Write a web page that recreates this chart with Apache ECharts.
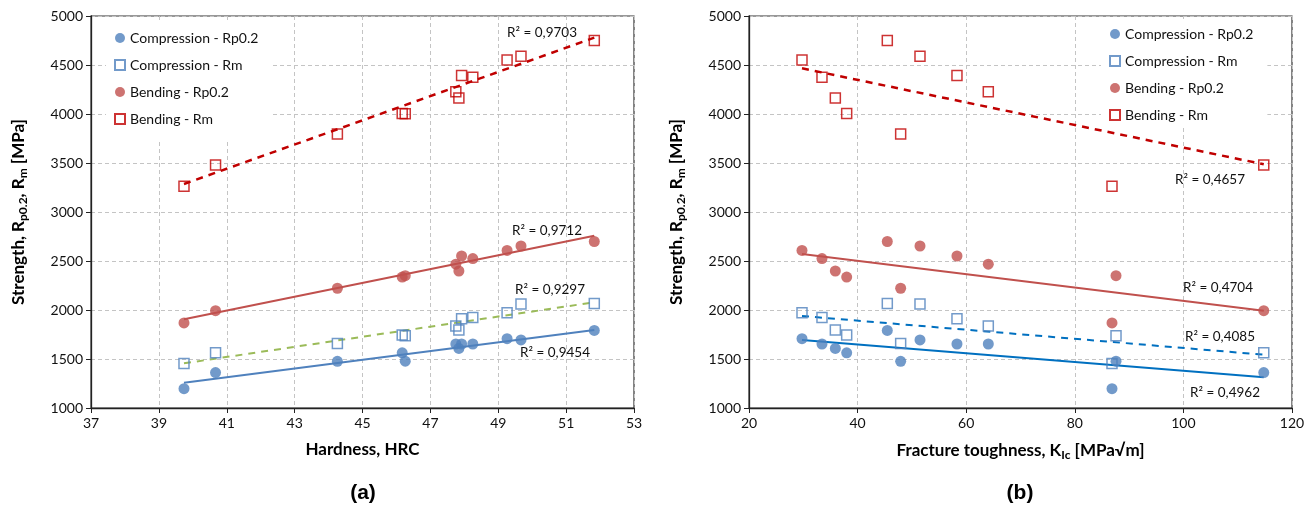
<!DOCTYPE html>
<html>
<head>
<meta charset="utf-8">
<script src="https://cdn.jsdelivr.net/npm/echarts@6/dist/echarts.min.js"></script>
<style>
  html, body { margin: 0; padding: 0; background: #fff; }
  #chart { width: 1313px; height: 512px; }
</style>
</head>
<body>
<div id="chart"></div>
<script>
// samples: hardness (chart a) and fracture toughness (chart b) of the same specimens
var hrc = [39.74, 40.67, 44.26, 46.17, 46.26, 47.75, 47.84, 47.92, 48.25, 49.26, 49.67, 51.83];
var kic = [86.85, 114.8, 47.93, 37.99, 87.59, 64.07, 35.9, 58.3, 33.44, 29.76, 51.49, 45.47];

var compRp = [1197, 1362, 1476, 1563, 1478, 1653, 1608, 1653, 1653, 1707, 1695, 1791];
var compRm = [1454, 1564, 1658, 1745, 1736, 1838, 1796, 1911, 1923, 1971, 2062, 2066];
var bendRp = [1868, 1993, 2222, 2336, 2350, 2467, 2398, 2551, 2525, 2608, 2653, 2699];
var bendRm = [3263, 3479, 3796, 4005, 4003, 4227, 4163, 4394, 4376, 4552, 4590, 4750];

// trend line end points
var trendHrc = [39.74, 51.83];
var trendA = {
  compRp: [1258, 1796],
  compRm: [1456, 2079],
  bendRp: [1905, 2758],
  bendRm: [3286, 4779]
};
var trendKic = [29.76, 114.8];
var trendB = {
  compRp: [1694, 1313],
  compRm: [1939, 1544],
  bendRp: [2571, 1993],
  bendRm: [4466, 3487]
};

var r2a = ['0,9703', '0,9712', '0,9297', '0,9454'];
var r2b = ['0,4657', '0,4704', '0,4085', '0,4962'];

var names = ['Compression - Rp0.2', 'Compression - Rm', 'Bending - Rp0.2', 'Bending - Rm'];
var xTicksA = [37, 53, 2];
var xTicksB = [20, 120, 20];
var yTicks = [1000, 5000, 500];

var FONT = 'Lato, "Open Sans", sans-serif';

function pairs(xs, ys) {
  return xs.map(function (x, i) { return [x, ys[i]]; });
}

function scatter(name, idx, xs, ys, kind) {
  var s = {
    name: name, type: 'scatter', xAxisIndex: idx, yAxisIndex: idx,
    data: pairs(xs, ys), z: 3
  };
  if (kind === 'blueDot') {
    s.symbol = 'circle'; s.symbolSize = 11;
    s.itemStyle = { color: '#4F81BD' };
  } else if (kind === 'redDot') {
    s.symbol = 'circle'; s.symbolSize = 11;
    s.itemStyle = { color: '#C0504D' };
  } else if (kind === 'blueSq') {
    s.symbol = 'rect'; s.symbolSize = 10;
    s.itemStyle = { color: 'rgba(255,255,255,0)', borderColor: '#4F81BD', borderWidth: 1.5 };
  } else {
    s.symbol = 'rect'; s.symbolSize = 10;
    s.itemStyle = { color: 'rgba(255,255,255,0)', borderColor: '#C00000', borderWidth: 1.5 };
  }
  return s;
}

function trend(idx, xs, ys, color, dashed, width) {
  return {
    type: 'line', xAxisIndex: idx, yAxisIndex: idx,
    data: pairs(xs, ys), symbol: 'none', silent: true, z: 2,
    lineStyle: { color: color, width: width || 2, type: dashed ? [7, 6] : 'solid' }
  };
}

function xAxis(idx, t, nameRich) {
  return {
    type: 'value', gridIndex: idx, min: t[0], max: t[1], interval: t[2],
    name: nameRich, nameLocation: 'middle', nameGap: 33,
    nameTextStyle: {
      fontFamily: FONT, fontSize: 17, fontWeight: 'bold', color: '#000',
      rich: {
        b: { fontFamily: FONT, fontSize: 17, fontWeight: 'bold', color: '#000' },
        sub: { fontFamily: FONT, fontSize: 12, fontWeight: 'bold', color: '#000', padding: [8, 0, 0, 0] }
      }
    },
    axisLine: { onZero: false, lineStyle: { color: '#222', width: 1.3 } },
    axisTick: { show: true, length: 5, lineStyle: { color: '#222' } },
    axisLabel: { fontFamily: FONT, fontSize: 14, color: '#111', margin: 8 },
    splitLine: { show: true, lineStyle: { color: '#C4C4C4', type: [4, 3] } }
  };
}

function yAxis(idx) {
  return {
    type: 'value', gridIndex: idx, min: yTicks[0], max: yTicks[1], interval: yTicks[2],
    name: '{b|Strength, R}{sub|p0.2}{b|, R}{sub|m}{b| [MPa]}',
    nameLocation: 'middle', nameGap: 62, nameRotate: 90,
    nameTextStyle: {
      rich: {
        b: { fontFamily: FONT, fontSize: 17, fontWeight: 'bold', color: '#000' },
        sub: { fontFamily: FONT, fontSize: 12, fontWeight: 'bold', color: '#000', padding: [8, 0, 0, 0] }
      }
    },
    axisLine: { onZero: false, lineStyle: { color: '#222', width: 1.3 } },
    axisTick: { show: true, length: 5, lineStyle: { color: '#222' } },
    axisLabel: {
      fontFamily: FONT, fontSize: 14, color: '#111', margin: 8,
      formatter: function (v) { return String(v); }
    },
    splitLine: { show: true, lineStyle: { color: '#C4C4C4', type: [4, 3] } }
  };
}

function legend(left, top, pad) {
  return {
    orient: 'vertical', left: left, top: top, itemWidth: 10, itemHeight: 10, itemGap: 13,
    data: names, selectedMode: false, backgroundColor: '#fff', padding: pad, z: 5,
    textStyle: { fontFamily: FONT, fontSize: 14, color: '#111' }
  };
}

function r2Text(x, y, val) {
  return {
    type: 'text', x: x, y: y, z: 10,
    style: { text: 'R² = ' + val, fontFamily: FONT, fontSize: 13.5, fill: '#111', align: 'center', verticalAlign: 'middle' }
  };
}

var option = {
  animation: false,
  backgroundColor: '#fff',
  grid: [
    { left: 91, top: 16, width: 543, height: 392, show: true, borderColor: '#333', borderWidth: 1.2 },
    { left: 749, top: 16, width: 543, height: 392, show: true, borderColor: '#333', borderWidth: 1.2 }
  ],
  xAxis: [
    xAxis(0, xTicksA, '{b|Hardness, HRC}'),
    xAxis(1, xTicksB, '{b|Fracture toughness, K}{sub|Ic}{b| [MPa√m]}')
  ],
  yAxis: [yAxis(0), yAxis(1)],
  legend: [legend(106, 23, [8, 14, 14, 8]), legend(1101, 19, [8, 14, 3, 8])],
  series: [
    trend(0, trendHrc, trendA.compRp, '#4F81BD', false),
    trend(0, trendHrc, trendA.compRm, '#9BBB59', true),
    trend(0, trendHrc, trendA.bendRp, '#C0504D', false),
    trend(0, trendHrc, trendA.bendRm, '#C00000', true, 2.5),
    scatter(names[0], 0, hrc, compRp, 'blueDot'),
    scatter(names[1], 0, hrc, compRm, 'blueSq'),
    scatter(names[2], 0, hrc, bendRp, 'redDot'),
    scatter(names[3], 0, hrc, bendRm, 'redSq'),
    trend(1, trendKic, trendB.compRp, '#0070C0', false),
    trend(1, trendKic, trendB.compRm, '#0070C0', true),
    trend(1, trendKic, trendB.bendRp, '#C0504D', false),
    trend(1, trendKic, trendB.bendRm, '#C00000', true, 2.5),
    scatter(names[0], 1, kic, compRp, 'blueDot'),
    scatter(names[1], 1, kic, compRm, 'blueSq'),
    scatter(names[2], 1, kic, bendRp, 'redDot'),
    scatter(names[3], 1, kic, bendRm, 'redSq')
  ],
  graphic: [
    r2Text(542, 33, r2a[0]),
    r2Text(547, 231, r2a[1]),
    r2Text(550, 290, r2a[2]),
    r2Text(555, 353, r2a[3]),
    r2Text(1210, 180, r2b[0]),
    r2Text(1218, 288, r2b[1]),
    r2Text(1220, 337, r2b[2]),
    r2Text(1225, 393, r2b[3]),
    { type: 'text', x: 363, y: 493, style: { text: '(a)', fontFamily: '"Liberation Sans", Arial, sans-serif', fontSize: 21, fontWeight: 'bold', fill: '#000', align: 'center', verticalAlign: 'middle' } },
    { type: 'text', x: 1020, y: 493, style: { text: '(b)', fontFamily: '"Liberation Sans", Arial, sans-serif', fontSize: 21, fontWeight: 'bold', fill: '#000', align: 'center', verticalAlign: 'middle' } }
  ]
};

var myChart = echarts.init(document.getElementById('chart'));
myChart.setOption(option, true);
</script>
</body>
</html>
